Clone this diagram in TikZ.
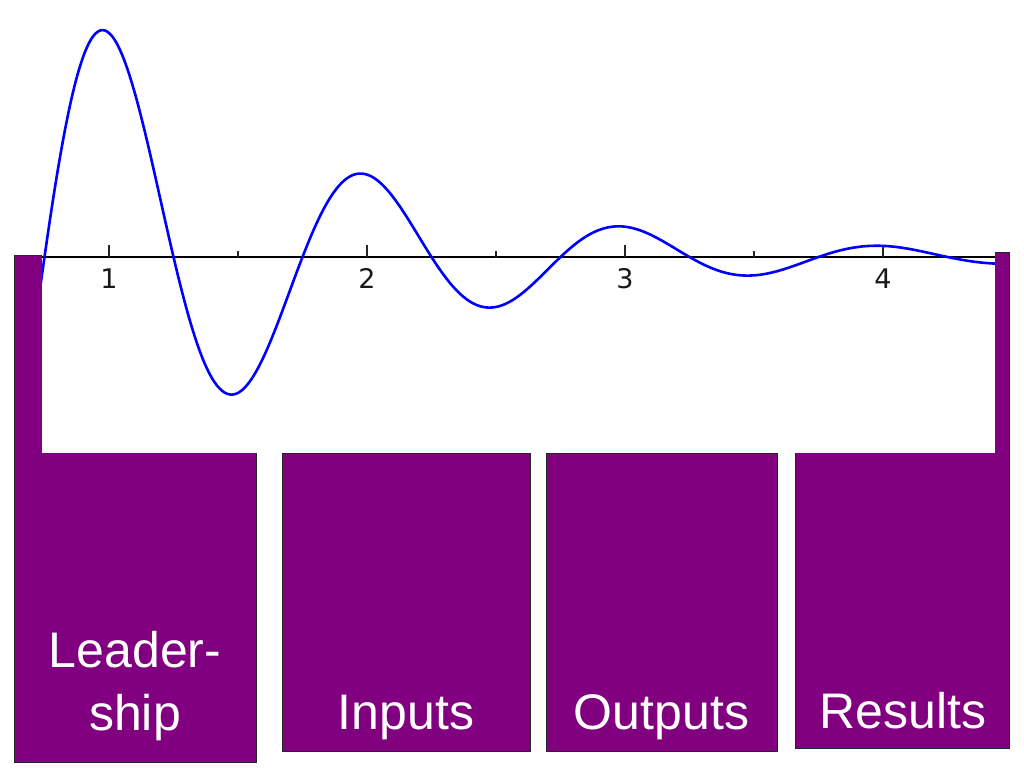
\documentclass[tikz,border=0pt]{standalone}
\usepackage{fontspec}
\setmainfont{Liberation Sans}
\newfontfamily\dejavu{DejaVu Sans}
\definecolor{boxpurple}{HTML}{800080}
\definecolor{curveblue}{HTML}{0000FF}
\begin{document}
\begin{tikzpicture}[x=1pt,y=-1pt,
  purplebox/.style={draw=black!85, line width=1pt, fill=boxpurple, inner sep=0pt, outer sep=0pt},
  boxtext/.style={text=white, font=\fontsize{50}{60}\selectfont, anchor=base, inner sep=0pt},
  ticklabel/.style={font=\dejavu\fontsize{27}{30}\selectfont, anchor=base, inner sep=0pt, text=black!90},
  axisline/.style={draw=black, line width=2.5pt},
  tickline/.style={draw=black!85, line width=1.8pt},
  wave/.style={draw=curveblue, line width=2.6pt}]
\useasboundingbox (0,0) rectangle (1024,768);
\fill[white] (0,0) rectangle (1024,768);
% purple boxes
\node[purplebox, minimum width=242pt, minimum height=507pt] (lead) at (135,508.5) {};
\node[purplebox, minimum width=248pt, minimum height=298pt] (inp) at (406,602) {};
\node[purplebox, minimum width=231pt, minimum height=298pt] (outp) at (661.5,602) {};
\node[purplebox, minimum width=214pt, minimum height=496pt] (res) at (902,500) {};
% white graph panel
\fill[white] (42,0) rectangle (995,453);
\begin{scope}
\clip (42,0) rectangle (995,453);
\coordinate (axl) at (42,257);
\coordinate (axr) at (995,257);
\draw[axisline] (axl) -- (axr);
\foreach \t in {1,2,3,4} {
  \draw[tickline] ({109+(\t-1)*258},245) -- ({109+(\t-1)*258},257);
  \node[ticklabel] at ({109+(\t-1)*258},288) {\t};
}
\foreach \t in {1.5,2.5,3.5} {
  \draw[tickline] ({109+(\t-1)*258},251) -- ({109+(\t-1)*258},257);
}
\draw[wave] plot[domain=0.7:4.48, samples=400, smooth] ({109+(\x-1)*258},{257-609*exp(-\x)*cos(360*\x)});
\end{scope}
% labels
\node[boxtext] (leadA) at (135,667) {Leader-};
\node[boxtext] (leadB) at (135,730) {ship};
\node[boxtext] (inpT) at (406,729) {Inputs};
\node[boxtext] (outpT) at (661.5,729) {Outputs};
\node[boxtext] (resT) at (903,728) {Results};
\end{tikzpicture}
\end{document}
